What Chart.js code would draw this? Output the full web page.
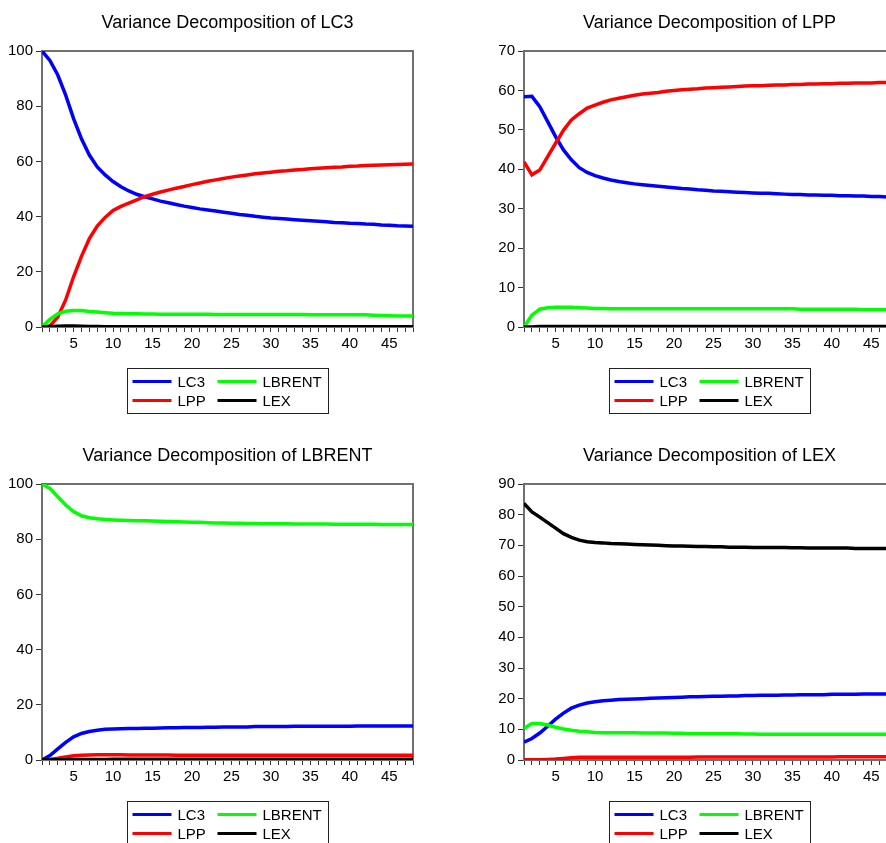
<!DOCTYPE html>
<html>
<head>
<meta charset="utf-8">
<script src="https://cdn.jsdelivr.net/npm/chart.js@4.4.1/dist/chart.umd.min.js"></script>
<style>
html, body { margin: 0; padding: 0; background: #fff; overflow: hidden; width: 886px; height: 843px; }
canvas { position: absolute; }
</style>
</head>
<body>
<canvas id="lc3-chart" width="455" height="420" style="left:0px;top:0px"></canvas>
<canvas id="lpp-chart" width="455" height="420" style="left:482px;top:0px"></canvas>
<canvas id="lbrent-chart" width="455" height="420" style="left:0px;top:433px"></canvas>
<canvas id="lex-chart" width="455" height="420" style="left:482px;top:433px"></canvas>
<script>
const periods = [1, 2, 3, 4, 5, 6, 7, 8, 9, 10, 11, 12, 13, 14, 15, 16, 17, 18, 19, 20, 21, 22, 23, 24,
    25, 26, 27, 28, 29, 30, 31, 32, 33, 34, 35, 36, 37, 38, 39, 40, 41, 42, 43, 44, 45, 46, 47, 48];
const seriesNames = ["LC3", "LPP", "LBRENT", "LEX"];
const xTickLabels = [5, 10, 15, 20, 25, 30, 35, 40, 45];

// Variance Decomposition of LC3
const lc3_LC3 = [100.0, 96.6, 91.3, 84.0, 75.5, 68.2, 62.3, 58.0, 55.1, 52.7, 50.8, 49.3, 48.1, 47.2, 46.4, 45.6,
    45.0, 44.4, 43.8, 43.3, 42.8, 42.4, 42.0, 41.6, 41.2, 40.8, 40.5, 40.1, 39.8, 39.5, 39.3, 39.1,
    38.9, 38.7, 38.5, 38.3, 38.1, 37.9, 37.8, 37.6, 37.5, 37.3, 37.2, 37.0, 36.9, 36.7, 36.6, 36.5];
const lc3_LPP = [0.0, 0.4, 3.6, 9.8, 18.2, 25.6, 32.0, 36.6, 39.7, 42.2, 43.7, 44.9, 46.1, 47.2, 48.1, 48.9,
    49.6, 50.3, 50.9, 51.6, 52.2, 52.8, 53.3, 53.8, 54.3, 54.7, 55.1, 55.5, 55.8, 56.1, 56.4, 56.6,
    56.9, 57.1, 57.3, 57.5, 57.7, 57.9, 58.0, 58.2, 58.3, 58.5, 58.6, 58.7, 58.8, 58.9, 59.0, 59.1];
const lc3_LBRENT = [0.0, 2.8, 4.8, 5.7, 6.0, 6.0, 5.6, 5.4, 5.2, 5.0, 4.9, 4.8, 4.8, 4.7, 4.7, 4.6,
    4.6, 4.6, 4.6, 4.6, 4.6, 4.6, 4.5, 4.5, 4.5, 4.5, 4.5, 4.5, 4.5, 4.5, 4.5, 4.5,
    4.5, 4.5, 4.4, 4.4, 4.4, 4.4, 4.4, 4.4, 4.4, 4.4, 4.3, 4.2, 4.1, 4.0, 4.0, 4.0];
const lc3_LEX = [0.0, 0.2, 0.3, 0.4, 0.4, 0.3, 0.2, 0.2, 0.1, 0.1, 0.1, 0.1, 0.1, 0.1, 0.1, 0.1,
    0.1, 0.1, 0.1, 0.1, 0.1, 0.1, 0.1, 0.1, 0.1, 0.1, 0.1, 0.1, 0.1, 0.1, 0.1, 0.1,
    0.1, 0.1, 0.1, 0.1, 0.1, 0.1, 0.1, 0.1, 0.1, 0.1, 0.1, 0.1, 0.1, 0.1, 0.1, 0.1];

// Variance Decomposition of LPP
const lpp_LC3 = [58.4, 58.5, 55.9, 52.1, 48.3, 44.9, 42.4, 40.4, 39.2, 38.4, 37.8, 37.3, 36.9, 36.6, 36.3, 36.1,
    35.9, 35.7, 35.5, 35.3, 35.1, 35.0, 34.8, 34.7, 34.5, 34.4, 34.3, 34.2, 34.1, 34.0, 33.9, 33.9,
    33.8, 33.7, 33.6, 33.6, 33.5, 33.5, 33.4, 33.4, 33.3, 33.3, 33.2, 33.2, 33.1, 33.1, 33.0, 33.0];
const lpp_LPP = [41.9, 38.6, 39.8, 43.2, 46.6, 49.9, 52.5, 54.1, 55.5, 56.3, 57.0, 57.6, 58.0, 58.4, 58.8, 59.1,
    59.3, 59.5, 59.8, 60.0, 60.2, 60.3, 60.4, 60.6, 60.7, 60.8, 60.9, 61.0, 61.1, 61.2, 61.2, 61.3,
    61.4, 61.4, 61.5, 61.5, 61.6, 61.6, 61.7, 61.7, 61.8, 61.8, 61.9, 61.9, 61.9, 62.0, 62.0, 62.0];
const lpp_LBRENT = [0.0, 3.0, 4.5, 4.9, 5.0, 5.0, 5.0, 4.9, 4.8, 4.7, 4.7, 4.6, 4.6, 4.6, 4.6, 4.6,
    4.6, 4.6, 4.6, 4.6, 4.6, 4.6, 4.6, 4.6, 4.6, 4.6, 4.6, 4.6, 4.6, 4.6, 4.6, 4.6,
    4.6, 4.6, 4.6, 4.5, 4.5, 4.5, 4.5, 4.5, 4.5, 4.5, 4.5, 4.4, 4.4, 4.4, 4.4, 4.4];
const lpp_LEX = [0.0, 0.0, 0.1, 0.1, 0.1, 0.1, 0.1, 0.1, 0.1, 0.1, 0.1, 0.1, 0.1, 0.1, 0.1, 0.1,
    0.1, 0.1, 0.1, 0.1, 0.1, 0.1, 0.1, 0.1, 0.1, 0.1, 0.1, 0.1, 0.1, 0.1, 0.1, 0.1,
    0.1, 0.1, 0.1, 0.1, 0.1, 0.1, 0.1, 0.1, 0.1, 0.1, 0.1, 0.1, 0.1, 0.1, 0.1, 0.1];

// Variance Decomposition of LBRENT
const lb_LC3 = [0.0, 1.6, 4.0, 6.4, 8.4, 9.6, 10.3, 10.8, 11.1, 11.2, 11.3, 11.4, 11.4, 11.5, 11.5, 11.6,
    11.7, 11.7, 11.8, 11.8, 11.8, 11.9, 11.9, 12.0, 12.0, 12.0, 12.0, 12.1, 12.1, 12.1, 12.1, 12.1,
    12.2, 12.2, 12.2, 12.2, 12.2, 12.2, 12.2, 12.2, 12.3, 12.3, 12.3, 12.3, 12.3, 12.3, 12.3, 12.3];
const lb_LPP = [0.0, 0.2, 0.6, 1.1, 1.5, 1.7, 1.8, 1.9, 1.9, 1.9, 1.9, 1.8, 1.8, 1.8, 1.8, 1.8,
    1.8, 1.7, 1.7, 1.7, 1.7, 1.7, 1.7, 1.7, 1.7, 1.7, 1.7, 1.7, 1.7, 1.7, 1.7, 1.7,
    1.7, 1.7, 1.7, 1.7, 1.7, 1.7, 1.7, 1.7, 1.7, 1.7, 1.7, 1.7, 1.7, 1.7, 1.7, 1.7];
const lb_LBRENT = [100.0, 98.4, 95.4, 92.4, 90.0, 88.5, 87.8, 87.4, 87.1, 87.0, 86.9, 86.8, 86.7, 86.7, 86.6, 86.5,
    86.4, 86.3, 86.2, 86.1, 86.1, 86.0, 85.9, 85.9, 85.8, 85.8, 85.7, 85.7, 85.6, 85.6, 85.6, 85.6,
    85.5, 85.5, 85.5, 85.5, 85.5, 85.4, 85.4, 85.4, 85.4, 85.4, 85.4, 85.3, 85.3, 85.3, 85.3, 85.3];
const lb_LEX = [0.0, 0.1, 0.1, 0.1, 0.2, 0.2, 0.2, 0.2, 0.2, 0.3, 0.3, 0.3, 0.3, 0.3, 0.3, 0.3,
    0.3, 0.3, 0.3, 0.3, 0.3, 0.3, 0.3, 0.3, 0.3, 0.3, 0.3, 0.3, 0.3, 0.3, 0.3, 0.3,
    0.3, 0.3, 0.3, 0.3, 0.3, 0.3, 0.3, 0.3, 0.3, 0.3, 0.3, 0.3, 0.3, 0.3, 0.3, 0.3];

// Variance Decomposition of LEX
const lex_LC3 = [5.8, 7.0, 8.8, 11.0, 13.3, 15.3, 16.9, 17.9, 18.6, 19.0, 19.3, 19.5, 19.7, 19.8, 19.9, 20.0,
    20.1, 20.2, 20.3, 20.4, 20.5, 20.6, 20.6, 20.7, 20.8, 20.8, 20.9, 20.9, 21.0, 21.0, 21.1, 21.1,
    21.1, 21.2, 21.2, 21.3, 21.3, 21.3, 21.3, 21.4, 21.4, 21.4, 21.4, 21.5, 21.5, 21.5, 21.5, 21.5];
const lex_LPP = [0.1, 0.1, 0.1, 0.2, 0.3, 0.5, 0.7, 0.9, 0.9, 0.9, 0.9, 0.9, 0.9, 0.9, 0.9, 0.9,
    0.9, 0.9, 0.9, 0.9, 0.9, 0.9, 1.0, 1.0, 1.0, 1.0, 1.0, 1.0, 1.0, 1.0, 1.0, 1.0,
    1.0, 1.0, 1.0, 1.0, 1.0, 1.0, 1.0, 1.0, 1.1, 1.1, 1.1, 1.1, 1.1, 1.1, 1.1, 1.1];
const lex_LBRENT = [10.3, 11.9, 11.9, 11.4, 10.7, 10.1, 9.7, 9.4, 9.2, 9.0, 8.9, 8.9, 8.9, 8.9, 8.9, 8.8,
    8.8, 8.8, 8.8, 8.7, 8.7, 8.6, 8.6, 8.6, 8.6, 8.6, 8.6, 8.6, 8.5, 8.5, 8.4, 8.4,
    8.4, 8.4, 8.4, 8.4, 8.4, 8.4, 8.4, 8.4, 8.4, 8.4, 8.4, 8.4, 8.4, 8.4, 8.4, 8.4];
const lex_LEX = [83.7, 80.9, 79.2, 77.4, 75.6, 73.8, 72.6, 71.7, 71.2, 70.9, 70.8, 70.6, 70.5, 70.4, 70.3, 70.2,
    70.1, 70.0, 69.9, 69.8, 69.8, 69.7, 69.6, 69.6, 69.5, 69.5, 69.4, 69.4, 69.4, 69.3, 69.3, 69.3,
    69.3, 69.3, 69.2, 69.2, 69.1, 69.1, 69.1, 69.1, 69.1, 69.1, 69.0, 69.0, 69.0, 69.0, 69.0, 69.0];

const colors = ["#0000ff", "#ff0000", "#00ff00", "#000000"];
const FONT = '"Liberation Sans", Arial, sans-serif';
Chart.defaults.font.family = FONT;
Chart.defaults.color = "#000";

// gray box round the plot area, drawn under the lines
const frameBox = {
    id: "frameBox",
    beforeDatasetsDraw(chart) {
        const a = chart.chartArea;
        const ctx = chart.ctx;
        ctx.save();
        ctx.strokeStyle = "#707070";
        ctx.lineWidth = 2;
        ctx.strokeRect(a.left, a.top, a.right - a.left, a.bottom - a.top);
        ctx.restore();
    },
};

// EViews style legend: boxed, two columns
const boxLegend = {
    id: "boxLegend",
    afterDraw(chart) {
        const a = chart.chartArea;
        const ctx = chart.ctx;
        const w = 201, h = 45;
        const x0 = Math.round((a.left + a.right) / 2 - w / 2) + 0.5;
        const y0 = Math.round(a.bottom + 41) + 0.5;
        ctx.save();
        ctx.strokeStyle = "#222";
        ctx.lineWidth = 1;
        ctx.strokeRect(x0, y0, w, h);
        ctx.font = "15px " + FONT;
        ctx.textBaseline = "middle";
        ctx.textAlign = "left";
        chart.data.datasets.forEach((ds, i) => {
            const col = Math.floor(i / 2);
            const row = i % 2;
            const lx = x0 + 5 + col * 85;
            const ly = y0 + 13 + row * 19;
            ctx.strokeStyle = ds.borderColor;
            ctx.lineWidth = 3;
            ctx.beginPath();
            ctx.moveTo(lx, ly);
            ctx.lineTo(lx + 39, ly);
            ctx.stroke();
            ctx.fillStyle = "#000";
            ctx.fillText(ds.label, lx + 45, ly + 1);
        });
        ctx.restore();
    },
};

function makePanel(id, title, series, yMax, yStep) {
    const ctx = document.querySelector("#" + id);
    return new Chart(ctx, {
        type: "line",
        data: {
            labels: periods,
            datasets: series.map((d, i) => ({
                label: seriesNames[i],
                data: periods.map((p, k) => ({ x: p, y: d[k] })),
                borderColor: colors[i],
                backgroundColor: colors[i],
                borderWidth: 3.5,
                pointRadius: 0,
                tension: 0,
                order: 4 - i,
            })),
        },
        options: {
            responsive: false,
            animation: false,
            layout: { padding: { left: 0, right: 0, top: 0, bottom: 67 } },
            plugins: {
                legend: { display: false },
                tooltip: { enabled: false },
                title: {
                    display: true,
                    text: title,
                    color: "#000",
                    font: { size: 18, weight: "normal" },
                    padding: { top: 12, bottom: 17.4 },
                },
            },
            scales: {
                x: {
                    type: "linear",
                    min: 1,
                    max: 48,
                    afterFit: (s) => { s.height = 26; },
                    border: { display: true, color: "#707070", width: 2 },
                    grid: { drawOnChartArea: false, drawTicks: true, tickLength: 5, tickColor: "#333", tickWidth: 1 },
                    ticks: {
                        stepSize: 1,
                        autoSkip: false,
                        maxRotation: 0,
                        padding: 3,
                        color: "#000",
                        font: { size: 15 },
                        callback: (v) => (xTickLabels.includes(v) ? String(v) : ""),
                    },
                },
                y: {
                    min: 0,
                    max: yMax,
                    afterFit: (s) => { s.width = 42; },
                    border: { display: true, color: "#707070", width: 2 },
                    grid: { drawOnChartArea: false, drawTicks: true, tickLength: 6, tickColor: "#333", tickWidth: 1 },
                    ticks: { stepSize: yStep, padding: 3, color: "#000", font: { size: 15 } },
                },
                y2: {
                    position: "right",
                    afterFit: (s) => { s.width = 42; },
                    border: { display: false },
                    grid: { display: false },
                    ticks: { display: false },
                },
            },
        },
        plugins: [frameBox, boxLegend],
    });
}

makePanel("lc3-chart", "Variance Decomposition of LC3", [lc3_LC3, lc3_LPP, lc3_LBRENT, lc3_LEX], 100, 20);
makePanel("lpp-chart", "Variance Decomposition of LPP", [lpp_LC3, lpp_LPP, lpp_LBRENT, lpp_LEX], 70, 10);
makePanel("lbrent-chart", "Variance Decomposition of LBRENT", [lb_LC3, lb_LPP, lb_LBRENT, lb_LEX], 100, 20);
makePanel("lex-chart", "Variance Decomposition of LEX", [lex_LC3, lex_LPP, lex_LBRENT, lex_LEX], 90, 10);
</script>
</body>
</html>
